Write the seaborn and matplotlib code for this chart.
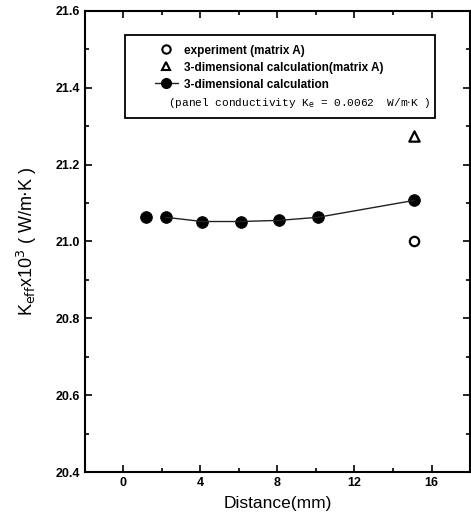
import numpy as np
import pandas as pd
import seaborn as sns
import matplotlib.pyplot as plt
from matplotlib.lines import Line2D
from matplotlib.patches import Rectangle
from matplotlib.ticker import MultipleLocator

# values
dist_calc = [1.2, 2.2, 4.1, 6.1, 8.1, 10.1, 15.1]
k_calc = [21.063, 21.063, 21.052, 21.052, 21.055, 21.063, 21.107]
dist_exp = [15.1]
k_exp = [21.002]
dist_tri = [15.1]
k_tri = [21.274]

sns.set_style("ticks", {"axes.edgecolor": "black", "text.color": "black",
                        "xtick.color": "black", "ytick.color": "black",
                        "axes.labelcolor": "black"})
plt.rcParams['font.family'] = ['Liberation Sans', 'DejaVu Sans']

calc = pd.DataFrame({"d": dist_calc, "k": k_calc})

fig = plt.figure(figsize=(4.71, 5.23), dpi=100)
ax = fig.add_axes([0.180, 0.0975, 0.818, 0.8815])

# line starts at the second point
sns.lineplot(data=calc.iloc[1:], x="d", y="k", color="#222222", lw=1.0, ax=ax)
sns.scatterplot(data=calc, x="d", y="k", color="black", s=70, edgecolor="black", ax=ax)
sns.scatterplot(x=dist_exp, y=k_exp, marker="o", s=45, facecolor="white",
                edgecolor="black", linewidth=1.6, ax=ax)
sns.scatterplot(x=dist_tri, y=k_tri, marker="^", s=55, facecolor="white",
                edgecolor="black", linewidth=1.6, ax=ax)

ax.set_xlim(-2, 18)
ax.set_ylim(20.4, 21.6)
ax.xaxis.set_minor_locator(MultipleLocator(2))
ax.yaxis.set_minor_locator(MultipleLocator(0.1))
ax.tick_params(which="both", direction="in", top=True, right=True, width=1.2)
ax.tick_params(which="major", length=5, labelsize=9)
ax.tick_params(which="minor", length=3)
ax.set_xticks([0, 4, 8, 12, 16])
ax.set_xticklabels(["0", "4", "8", "12", "16"], fontweight="bold")
yt = np.round(np.arange(20.4, 21.61, 0.2), 1)
ax.set_yticks(yt)
ax.set_yticklabels([f"{v:.1f}" for v in yt], fontweight="bold")
for s in ax.spines.values():
    s.set_linewidth(1.5)

ax.set_xlabel("Distance(mm)", fontsize=12.5, labelpad=5)
ax.set_ylabel(r"K$_{\mathrm{eff}}$x10$^3$ ( W/m$\cdot$K )", fontsize=13, labelpad=12)

# legend box
ax.add_patch(Rectangle((0.104, 0.768), 0.805, 0.180, transform=ax.transAxes,
                       fill=False, edgecolor="black", lw=1.3, zorder=5))
handles = [
    Line2D([], [], ls="none", marker="o", mfc="white", mec="black", mew=1.5, ms=6),
    Line2D([], [], ls="none", marker="^", mfc="white", mec="black", mew=1.5, ms=6),
    Line2D([], [], color="#222222", lw=1, marker="o", mfc="black", mec="black", ms=7),
]
labels = ["experiment (matrix A)", "3-dimensional calculation(matrix A)",
          "3-dimensional calculation"]
ax.legend(handles, labels, loc="upper left", bbox_to_anchor=(0.16, 0.945),
          frameon=False, prop={"weight": "bold", "size": 8.5},
          handlelength=2.0, handletextpad=0.5, labelspacing=0.42, borderpad=0.2)
ax.text(0.215, 0.80, r"(panel conductivity K$_{\mathrm{e}}$ = 0.0062  W/m$\cdot$K )",
        transform=ax.transAxes, fontsize=8, family="Liberation Mono",
        va="center", ha="left")

fig.savefig("out.png", dpi=100)
